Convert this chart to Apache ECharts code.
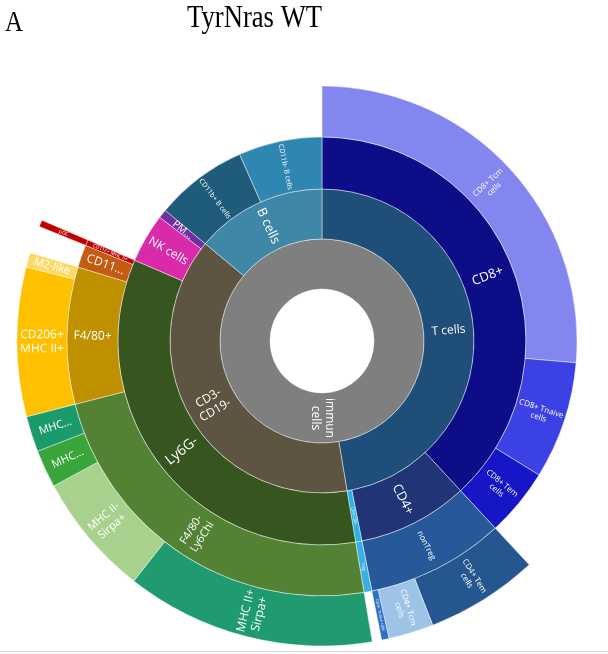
<!DOCTYPE html>
<html><head><meta charset="utf-8">
<script src="https://cdn.jsdelivr.net/npm/echarts@6/dist/echarts.min.js"></script>
<style>html,body{margin:0;padding:0;background:#fff}#c{width:608px;height:654px}</style>
</head><body><div id="c"></div>
<script>
// ---------- data (percent of immune cells) ----------
const rootName = 'immun\ncells';
const level2Names = ['T cells', 'CD3-\nCD19-', 'B cells'];

const tcellNames = ['CD8+', 'CD4+', 'CD4-CD8-'];
const cd8Names = ['CD8+ Tcm\ncells', 'CD8+ Tnaive\ncells', 'CD8+ Tem\ncells'];
const cd8Values = [26.36, 7.44, 4.31];
const cd4Names = ['nonTreg'];
const nonTregNames = ['CD4+ Tem\ncells', 'CD4+ Tcm\ncells', 'CD4+ Tnaive cells'];
const nonTregValues = [5.97, 2.39, 0.39];
const dnNames = ['Treg'];
const dnValues = [0.50];

const bcellNames = ['CD11b+ B cells', 'CD11b- B cells'];
const bcellValues = [7.33, 6.61];

const cd3negNames = ['Ly6G-', 'NK cells', 'PM...'];
const cd3negLeafValues = [null, 3.89, 0.69];
const ly6gNames = ['F4/80-\nLy6Chi', 'F4/80+', 'CD11...', 'CD11c+ MHC II+'];
const ly6gLeafValues = [null, null, 1.44, null];
const ly6chiNames = ['MHC II+\nSirpa+', 'MHC II-\nSirpa+', 'MHC...', 'MHC...'];
const ly6chiValues = [13.22, 6.53, 2.00, 1.89];
const f480Names = ['CD206+\nMHC II+', 'M2-like'];
const f480Values = [7.89, 0.78];
const dcNames = ['pDC'];
const dcValues = [0.36];

// ---------- styles (kept apart from data) ----------
const rootColor = '#7f7f7f';
const level2Colors = ['#1f4e78', '#5d5541', '#3f87a6'];
const tcellColors = ['#0d0d88', '#213476', '#2ab4e6'];
const cd8Colors = ['#8286ee', '#3c41e6', '#1616c6'];
const cd4Colors = ['#27599a'];
const nonTregColors = ['#25568f', '#9dc3e6', '#2f6fc4'];
const dnColors = ['#3bb0e0'];
const bcellColors = ['#1f5c7a', '#2e86b1'];
const cd3negColors = ['#37561f', '#d92aaa', '#7030a0'];
const ly6gColors = ['#548235', '#bf9000', '#c55a11', '#c00000'];
const ly6chiColors = ['#1f9b6f', '#a9d18e', '#38a63a', '#1b9a6b'];
const f480Colors = ['#ffc000', '#ffd966'];
const dcColors = ['#c00000'];

const fs = {
  'immun\ncells': 12, 'T cells': 12, 'B cells': 13, 'CD3-\nCD19-': 12,
  'CD8+': 13, 'CD4+': 13, 'CD4-CD8-': 4,
  'CD8+ Tcm\ncells': 8, 'CD8+ Tnaive\ncells': 8, 'CD8+ Tem\ncells': 8,
  'nonTreg': 8, 'CD4+ Tem\ncells': 8, 'CD4+ Tcm\ncells': 8, 'CD4+ Tnaive cells': 4, 'Treg': 4,
  'CD11b+ B cells': 7, 'CD11b- B cells': 7,
  'Ly6G-': 14, 'NK cells': 12, 'PM...': 10,
  'F4/80-\nLy6Chi': 11, 'F4/80+': 12, 'CD11...': 12, 'CD11c+ MHC II+': 5,
  'MHC II+\nSirpa+': 12, 'MHC II-\nSirpa+': 11, 'MHC...': 11,
  'CD206+\nMHC II+': 12, 'M2-like': 11, 'pDC': 5
};

function node(name, color, value, children) {
  const n = { name: name, itemStyle: { color: color },
    label: { fontSize: fs[name] || 10, lineHeight: Math.round((fs[name] || 10) * 1.15) } };
  if (value != null) n.value = value;
  if (children) n.children = children;
  return n;
}
function leaves(names, values, colors) {
  return names.map((n, i) => node(n, colors[i], values[i]));
}

const cd8 = node(tcellNames[0], tcellColors[0], null, leaves(cd8Names, cd8Values, cd8Colors));
const cd4 = node(tcellNames[1], tcellColors[1], null, [
  node(cd4Names[0], cd4Colors[0], null, leaves(nonTregNames, nonTregValues, nonTregColors))
]);
const dn = node(tcellNames[2], tcellColors[2], null, leaves(dnNames, dnValues, dnColors));
const tcells = node(level2Names[0], level2Colors[0], null, [cd8, cd4, dn]);

const ly6g = node(cd3negNames[0], cd3negColors[0], cd3negLeafValues[0], [
  node(ly6gNames[0], ly6gColors[0], ly6gLeafValues[0], leaves(ly6chiNames, ly6chiValues, ly6chiColors)),
  node(ly6gNames[1], ly6gColors[1], ly6gLeafValues[1], leaves(f480Names, f480Values, f480Colors)),
  node(ly6gNames[2], ly6gColors[2], ly6gLeafValues[2]),
  node(ly6gNames[3], ly6gColors[3], ly6gLeafValues[3], leaves(dcNames, dcValues, dcColors))
]);
const cd3neg = node(level2Names[1], level2Colors[1], null, [
  ly6g,
  node(cd3negNames[1], cd3negColors[1], cd3negLeafValues[1]),
  node(cd3negNames[2], cd3negColors[2], cd3negLeafValues[2])
]);

const bcells = node(level2Names[2], level2Colors[2], null, leaves(bcellNames, bcellValues, bcellColors));

const root = node(rootName, rootColor, null, [tcells, cd3neg, bcells]);

const chart = echarts.init(document.getElementById('c'), null, { renderer: 'canvas' });
chart.setOption({
  animation: false,
  graphic: [
    { type: 'text', x: 187, y: 3, scaleX: 0.86, style: { text: 'TyrNras WT', font: '31px "Liberation Serif"', fill: '#000', verticalAlign: 'top' } },
    { type: 'text', x: 5, y: 9, scaleX: 0.86, style: { text: 'A', font: '29px "Liberation Serif"', fill: '#000', verticalAlign: 'top' } },
    { type: 'line', shape: { x1: 0, y1: 651.5, x2: 608, y2: 651.5 }, style: { stroke: '#d9d9d9', lineWidth: 1 } }
  ],
  series: [{
    type: 'sunburst',
    center: [322, 341],
    radius: [52, 305],
    sort: null,
    nodeClick: false,
    startAngle: 90,
    clockwise: true,
    emphasis: { disabled: true },
    data: [root],
    itemStyle: { borderColor: 'rgba(255,255,255,0.55)', borderWidth: 0.8 },
    label: { color: '#ffffff', fontFamily: '"Open Sans", "Noto Sans", sans-serif', rotate: 'radial' },
    levels: [
      {},
      { r0: 52, r: 102 },
      { r0: 102, r: 152 },
      { r0: 152, r: 204 },
      { r0: 204, r: 255 },
      { r0: 255, r: 305 }
    ]
  }]
});
</script></body></html>
